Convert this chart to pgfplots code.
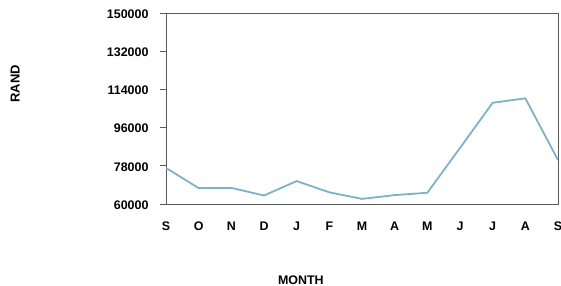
\documentclass[border=0pt]{standalone}
\usepackage{pgfplots}
\pgfplotsset{compat=1.18}
\usepackage{fontspec}
\setmainfont{Liberation Sans}
\definecolor{linec}{RGB}{125,178,198}
\definecolor{axc}{RGB}{90,90,90}
\begin{document}
\begin{tikzpicture}
\useasboundingbox (0,0) rectangle (561bp,286bp);
\begin{axis}[
  at={(166bp,82bp)}, anchor=south west,
  scale only axis, width=392bp, height=191bp,
  xmin=0, xmax=12, ymin=60000, ymax=150000,
  xtick={0,...,12},
  xticklabels={S,O,N,D,J,F,M,A,M,J,J,A,S},
  ytick={60000,78000,96000,114000,132000,150000},
  ytick pos=left,
  scaled y ticks=false,
  /pgf/number format/assume math mode=true,
  yticklabel={\pgfmathprintnumber[fixed,1000 sep={}]{\tick}},
  tick label style={font=\fontsize{12.5}{14}\selectfont\bfseries},
  xtick style={draw=none},
  ytick style={draw=axc, line width=0.8pt},
  tick align=outside,
  major tick length=6bp,
  axis line style={draw=axc, line width=0.9pt},
  xticklabel style={yshift=-8bp},
  yticklabel style={xshift=-8bp, yshift=-1bp},
  ylabel={RAND},
  xlabel={MONTH},
  ylabel style={at={(rel axis cs:-0.385,0.63)}, anchor=center, font=\fontsize{13}{15}\selectfont\bfseries},
  xlabel style={at={(rel axis cs:0.344,-0.40)}, anchor=center, font=\fontsize{12.5}{14}\selectfont\bfseries},
]
\addplot[color=linec, line width=1.8pt, mark=none] coordinates {
(0,77000) (1,67500) (2,67600) (3,64000) (4,70800) (5,65500) (6,62400) (7,64200) (8,65300) (9,86400) (10,107700) (11,109800) (12,80700)
};
\end{axis}
\end{tikzpicture}
\end{document}
